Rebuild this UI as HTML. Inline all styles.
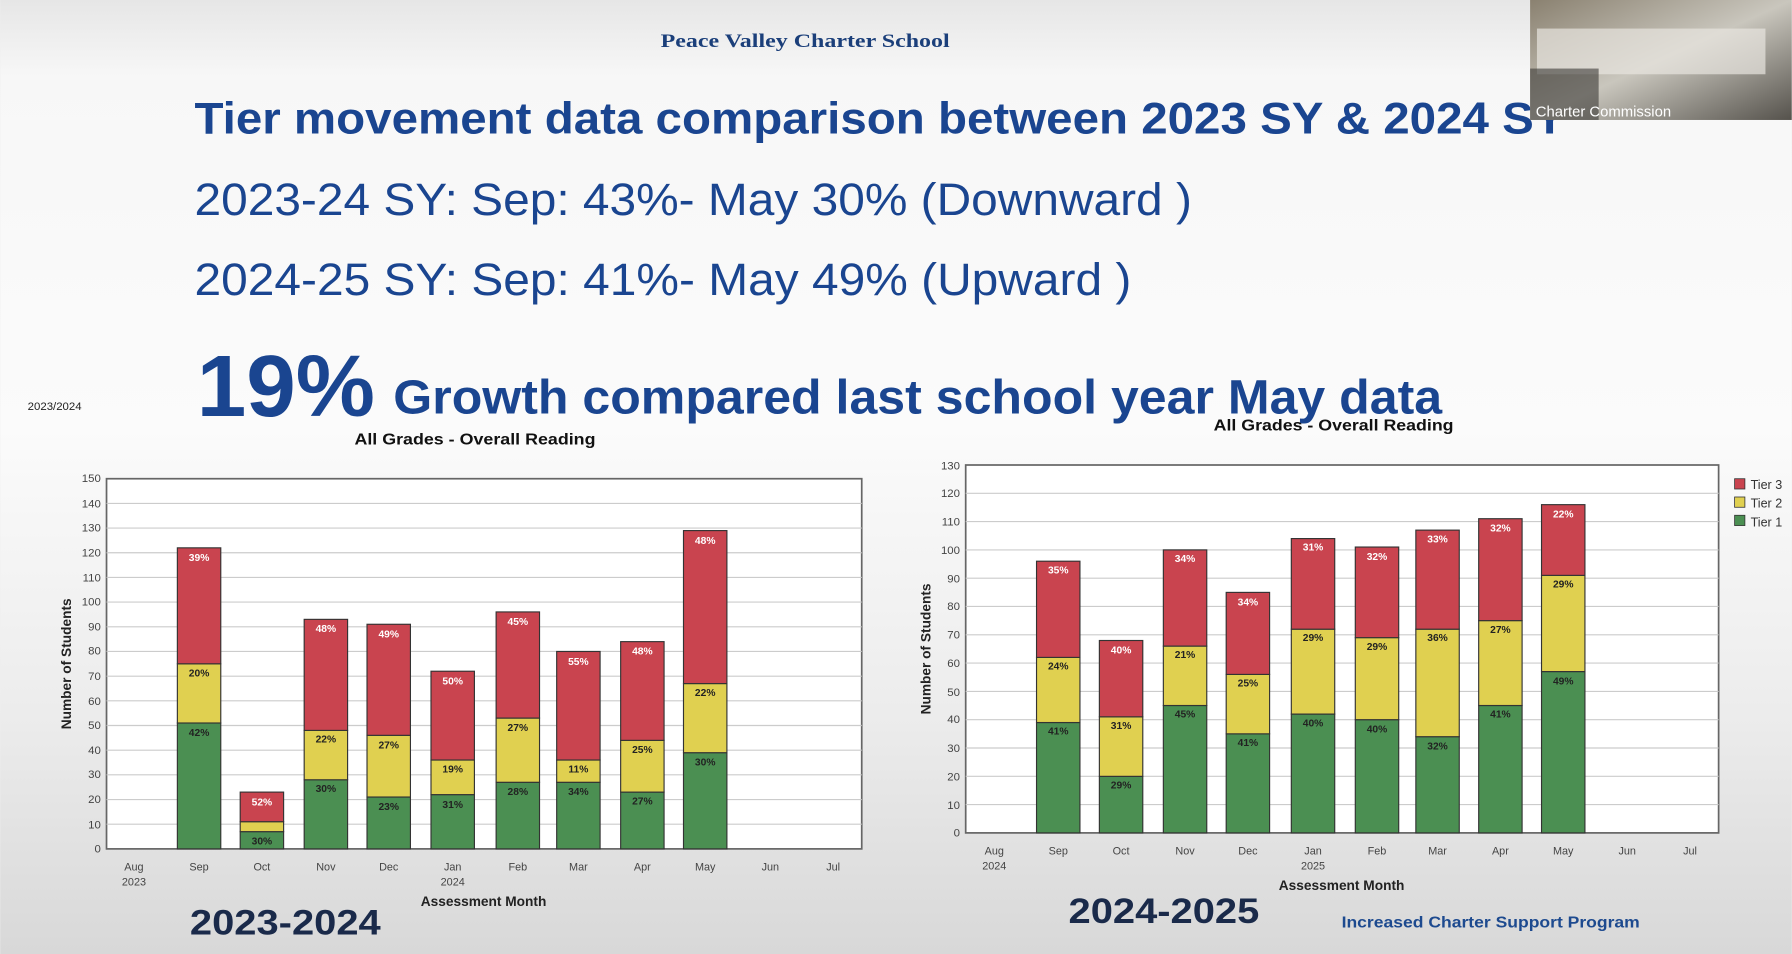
<!DOCTYPE html>
<html><head><meta charset="utf-8"><style>
html,body{margin:0;padding:0;width:1792px;height:954px;overflow:hidden;background:#eee}
svg{display:block}
</style></head><body>
<svg width="1792" height="954" viewBox="0 0 1568 835" xmlns="http://www.w3.org/2000/svg" font-family="Liberation Sans, Arial, sans-serif">
<defs>
<linearGradient id="bg" x1="0" y1="0" x2="0" y2="1">
<stop offset="0" stop-color="#e6e6e6"/><stop offset="0.08" stop-color="#f7f7f7"/><stop offset="0.45" stop-color="#fbfbfb"/><stop offset="0.75" stop-color="#ececec"/><stop offset="1" stop-color="#d8d8d8"/>
</linearGradient>
<linearGradient id="cam" x1="0" y1="0" x2="1" y2="1">
<stop offset="0" stop-color="#8a8170"/><stop offset="0.5" stop-color="#c9c6bd"/><stop offset="1" stop-color="#55524c"/>
</linearGradient>
</defs>
<rect width="1568" height="835" fill="url(#bg)"/>
<text x="578" y="41" textLength="253" lengthAdjust="spacingAndGlyphs" font-family="Liberation Serif, serif" font-weight="bold" font-size="17" fill="#1b3f7a">Peace Valley Charter School</text>
<g fill="#1a4590">
<text x="170" y="117" textLength="1200" lengthAdjust="spacingAndGlyphs" font-weight="bold" font-size="39">Tier movement data comparison between 2023 SY &amp; 2024 SY</text>
<text x="170" y="188" textLength="873" lengthAdjust="spacingAndGlyphs" font-size="40">2023-24 SY: Sep: 43%- May 30% (Downward )</text>
<text x="170" y="258" textLength="820" lengthAdjust="spacingAndGlyphs" font-size="40">2024-25 SY: Sep: 41%- May 49% (Upward )</text>
<text x="172" y="364" textLength="156" lengthAdjust="spacingAndGlyphs" font-weight="bold" font-size="76">19%</text>
<text x="344" y="362" textLength="918" lengthAdjust="spacingAndGlyphs" font-weight="bold" font-size="42">Growth compared last school year May data</text>
</g>
<rect x="1339" y="0" width="229" height="105" fill="url(#cam)"/>
<rect x="1345" y="25" width="200" height="40" fill="#e8e6e0" opacity="0.7"/>
<rect x="1339" y="60" width="60" height="45" fill="#3a3936" opacity="0.6"/>
<text x="1344" y="102" font-size="13" fill="#fff">Charter Commission</text>

<text x="24" y="359" font-size="10" fill="#222">2023/2024</text>
<text x="310" y="389" textLength="211" lengthAdjust="spacingAndGlyphs" font-weight="bold" font-size="14" fill="#111">All Grades - Overall Reading</text>
<text x="1062" y="377" textLength="210" lengthAdjust="spacingAndGlyphs" font-weight="bold" font-size="14" fill="#111">All Grades - Overall Reading</text>

<rect x="93" y="419" width="661" height="324" fill="#fff" stroke="#666" stroke-width="1.5"/>
<g stroke="#ccc" stroke-width="1">
<line x1="93" x2="754" y1="721.4" y2="721.4"/><line x1="93" x2="754" y1="699.8" y2="699.8"/><line x1="93" x2="754" y1="678.2" y2="678.2"/><line x1="93" x2="754" y1="656.6" y2="656.6"/><line x1="93" x2="754" y1="635" y2="635"/><line x1="93" x2="754" y1="613.4" y2="613.4"/><line x1="93" x2="754" y1="591.8" y2="591.8"/><line x1="93" x2="754" y1="570.2" y2="570.2"/><line x1="93" x2="754" y1="548.6" y2="548.6"/><line x1="93" x2="754" y1="527" y2="527"/><line x1="93" x2="754" y1="505.4" y2="505.4"/><line x1="93" x2="754" y1="483.8" y2="483.8"/><line x1="93" x2="754" y1="462.2" y2="462.2"/><line x1="93" x2="754" y1="440.6" y2="440.6"/>
</g>
<g font-size="10" fill="#444" text-anchor="end">
<text x="88" y="746">0</text><text x="88" y="725">10</text><text x="88" y="703">20</text><text x="88" y="681">30</text><text x="88" y="660">40</text><text x="88" y="638">50</text><text x="88" y="617">60</text><text x="88" y="595">70</text><text x="88" y="573">80</text><text x="88" y="552">90</text><text x="88" y="530">100</text><text x="88" y="509">110</text><text x="88" y="487">120</text><text x="88" y="465">130</text><text x="88" y="444">140</text><text x="88" y="422">150</text>
</g>
<text transform="translate(62,581) rotate(-90)" text-anchor="middle" font-weight="bold" font-size="12" fill="#222">Number of Students</text>
<g stroke="#333" stroke-width="1">
<rect x="155" y="632.8" width="38" height="110.2" fill="#4b8f52"/><rect x="155" y="581" width="38" height="51.8" fill="#e0d050"/><rect x="155" y="479.5" width="38" height="101.5" fill="#c9444f"/>
<rect x="210" y="727.9" width="38" height="15.1" fill="#4b8f52"/><rect x="210" y="719.2" width="38" height="8.7" fill="#e0d050"/><rect x="210" y="693.3" width="38" height="25.9" fill="#c9444f"/>
<rect x="266" y="682.5" width="38" height="60.5" fill="#4b8f52"/><rect x="266" y="639.3" width="38" height="43.2" fill="#e0d050"/><rect x="266" y="542.1" width="38" height="97.2" fill="#c9444f"/>
<rect x="321" y="697.6" width="38" height="45.4" fill="#4b8f52"/><rect x="321" y="643.6" width="38" height="54" fill="#e0d050"/><rect x="321" y="546.4" width="38" height="97.2" fill="#c9444f"/>
<rect x="377" y="695.5" width="38" height="47.5" fill="#4b8f52"/><rect x="377" y="665.2" width="38" height="30.3" fill="#e0d050"/><rect x="377" y="587.5" width="38" height="77.7" fill="#c9444f"/>
<rect x="434" y="684.7" width="38" height="58.3" fill="#4b8f52"/><rect x="434" y="628.5" width="38" height="56.2" fill="#e0d050"/><rect x="434" y="535.6" width="38" height="92.9" fill="#c9444f"/>
<rect x="487" y="684.7" width="38" height="58.3" fill="#4b8f52"/><rect x="487" y="665.2" width="38" height="19.5" fill="#e0d050"/><rect x="487" y="570.2" width="38" height="95" fill="#c9444f"/>
<rect x="543" y="693.3" width="38" height="49.7" fill="#4b8f52"/><rect x="543" y="648" width="38" height="45.3" fill="#e0d050"/><rect x="543" y="561.6" width="38" height="86.4" fill="#c9444f"/>
<rect x="598" y="658.8" width="38" height="84.2" fill="#4b8f52"/><rect x="598" y="598.3" width="38" height="60.5" fill="#e0d050"/><rect x="598" y="464.4" width="38" height="133.9" fill="#c9444f"/>
</g>
<g font-size="9" font-weight="bold" text-anchor="middle">
<g fill="#fff"><text x="174" y="491">39%</text><text x="229" y="705">52%</text><text x="285" y="553">48%</text><text x="340" y="558">49%</text><text x="396" y="599">50%</text><text x="453" y="547">45%</text><text x="506" y="582">55%</text><text x="562" y="573">48%</text><text x="617" y="476">48%</text></g>
<g fill="#222"><text x="174" y="592">20%</text><text x="285" y="650">22%</text><text x="340" y="655">27%</text><text x="396" y="676">19%</text><text x="453" y="640">27%</text><text x="506" y="676">11%</text><text x="562" y="659">25%</text><text x="617" y="609">22%</text>
<text x="174" y="644">42%</text><text x="229" y="739">30%</text><text x="285" y="693">30%</text><text x="340" y="709">23%</text><text x="396" y="707">31%</text><text x="453" y="696">28%</text><text x="506" y="696">34%</text><text x="562" y="704">27%</text><text x="617" y="670">30%</text></g>
</g>
<g font-size="9.5" fill="#444" text-anchor="middle">
<text x="117" y="762">Aug</text><text x="117" y="775">2023</text><text x="174" y="762">Sep</text><text x="229" y="762">Oct</text><text x="285" y="762">Nov</text><text x="340" y="762">Dec</text><text x="396" y="762">Jan</text><text x="396" y="775">2024</text><text x="453" y="762">Feb</text><text x="506" y="762">Mar</text><text x="562" y="762">Apr</text><text x="617" y="762">May</text><text x="674" y="762">Jun</text><text x="729" y="762">Jul</text>
</g>
<text x="423" y="793" text-anchor="middle" font-weight="bold" font-size="12" fill="#222">Assessment Month</text>
<text x="166" y="818" textLength="167" lengthAdjust="spacingAndGlyphs" font-weight="bold" font-size="31" fill="#1a2a4a">2023-2024</text>

<rect x="845" y="407" width="659" height="322" fill="#fff" stroke="#666" stroke-width="1.5"/>
<g stroke="#ccc" stroke-width="1">
<line x1="845" x2="1504" y1="704.2" y2="704.2"/><line x1="845" x2="1504" y1="679.5" y2="679.5"/><line x1="845" x2="1504" y1="654.7" y2="654.7"/><line x1="845" x2="1504" y1="629.9" y2="629.9"/><line x1="845" x2="1504" y1="605.2" y2="605.2"/><line x1="845" x2="1504" y1="580.4" y2="580.4"/><line x1="845" x2="1504" y1="555.6" y2="555.6"/><line x1="845" x2="1504" y1="530.8" y2="530.8"/><line x1="845" x2="1504" y1="506.1" y2="506.1"/><line x1="845" x2="1504" y1="481.3" y2="481.3"/><line x1="845" x2="1504" y1="456.5" y2="456.5"/><line x1="845" x2="1504" y1="431.8" y2="431.8"/>
</g>
<g font-size="10" fill="#444" text-anchor="end">
<text x="840" y="732">0</text><text x="840" y="708">10</text><text x="840" y="683">20</text><text x="840" y="658">30</text><text x="840" y="633">40</text><text x="840" y="609">50</text><text x="840" y="584">60</text><text x="840" y="559">70</text><text x="840" y="534">80</text><text x="840" y="510">90</text><text x="840" y="485">100</text><text x="840" y="460">110</text><text x="840" y="435">120</text><text x="840" y="411">130</text>
</g>
<text transform="translate(814,568) rotate(-90)" text-anchor="middle" font-weight="bold" font-size="12" fill="#222">Number of Students</text>
<g stroke="#333" stroke-width="1">
<rect x="907" y="632.4" width="38" height="96.6" fill="#4b8f52"/><rect x="907" y="575.4" width="38" height="57" fill="#e0d050"/><rect x="907" y="491.2" width="38" height="84.2" fill="#c9444f"/>
<rect x="962" y="679.5" width="38" height="49.5" fill="#4b8f52"/><rect x="962" y="627.4" width="38" height="52.1" fill="#e0d050"/><rect x="962" y="560.6" width="38" height="66.8" fill="#c9444f"/>
<rect x="1018" y="617.5" width="38" height="111.5" fill="#4b8f52"/><rect x="1018" y="565.5" width="38" height="52" fill="#e0d050"/><rect x="1018" y="481.3" width="38" height="84.2" fill="#c9444f"/>
<rect x="1073" y="642.3" width="38" height="86.7" fill="#4b8f52"/><rect x="1073" y="590.3" width="38" height="52" fill="#e0d050"/><rect x="1073" y="518.5" width="38" height="71.8" fill="#c9444f"/>
<rect x="1130" y="625" width="38" height="104" fill="#4b8f52"/><rect x="1130" y="550.7" width="38" height="74.3" fill="#e0d050"/><rect x="1130" y="471.4" width="38" height="79.3" fill="#c9444f"/>
<rect x="1186" y="629.9" width="38" height="99.1" fill="#4b8f52"/><rect x="1186" y="558.1" width="38" height="71.8" fill="#e0d050"/><rect x="1186" y="478.8" width="38" height="79.3" fill="#c9444f"/>
<rect x="1239" y="644.8" width="38" height="84.2" fill="#4b8f52"/><rect x="1239" y="550.7" width="38" height="94.1" fill="#e0d050"/><rect x="1239" y="464" width="38" height="86.7" fill="#c9444f"/>
<rect x="1294" y="617.5" width="38" height="111.5" fill="#4b8f52"/><rect x="1294" y="543.2" width="38" height="74.3" fill="#e0d050"/><rect x="1294" y="454" width="38" height="89.2" fill="#c9444f"/>
<rect x="1349" y="587.8" width="38" height="141.2" fill="#4b8f52"/><rect x="1349" y="503.6" width="38" height="84.2" fill="#e0d050"/><rect x="1349" y="441.7" width="38" height="61.9" fill="#c9444f"/>
</g>
<g font-size="9" font-weight="bold" text-anchor="middle">
<g fill="#fff"><text x="926" y="502">35%</text><text x="981" y="572">40%</text><text x="1037" y="492">34%</text><text x="1092" y="530">34%</text><text x="1149" y="482">31%</text><text x="1205" y="490">32%</text><text x="1258" y="475">33%</text><text x="1313" y="465">32%</text><text x="1368" y="453">22%</text></g>
<g fill="#222"><text x="926" y="586">24%</text><text x="981" y="638">31%</text><text x="1037" y="576">21%</text><text x="1092" y="601">25%</text><text x="1149" y="561">29%</text><text x="1205" y="569">29%</text><text x="1258" y="561">36%</text><text x="1313" y="554">27%</text><text x="1368" y="514">29%</text>
<text x="926" y="643">41%</text><text x="981" y="690">29%</text><text x="1037" y="628">45%</text><text x="1092" y="653">41%</text><text x="1149" y="636">40%</text><text x="1205" y="641">40%</text><text x="1258" y="656">32%</text><text x="1313" y="628">41%</text><text x="1368" y="599">49%</text></g>
</g>
<g font-size="9.5" fill="#444" text-anchor="middle">
<text x="870" y="748">Aug</text><text x="870" y="761">2024</text><text x="926" y="748">Sep</text><text x="981" y="748">Oct</text><text x="1037" y="748">Nov</text><text x="1092" y="748">Dec</text><text x="1149" y="748">Jan</text><text x="1149" y="761">2025</text><text x="1205" y="748">Feb</text><text x="1258" y="748">Mar</text><text x="1313" y="748">Apr</text><text x="1368" y="748">May</text><text x="1424" y="748">Jun</text><text x="1479" y="748">Jul</text>
</g>
<text x="1174" y="779" text-anchor="middle" font-weight="bold" font-size="12" fill="#222">Assessment Month</text>
<g font-size="11" fill="#333">
<rect x="1518" y="419" width="9" height="9" fill="#c9444f" stroke="#333" stroke-width="0.7"/><text x="1532" y="428">Tier 3</text>
<rect x="1518" y="435" width="9" height="9" fill="#e0d050" stroke="#333" stroke-width="0.7"/><text x="1532" y="444">Tier 2</text>
<rect x="1518" y="451" width="9" height="9" fill="#4b8f52" stroke="#333" stroke-width="0.7"/><text x="1532" y="461">Tier 1</text>
</g>
<text x="935" y="808" textLength="167" lengthAdjust="spacingAndGlyphs" font-weight="bold" font-size="31" fill="#1a2a4a">2024-2025</text>
<text x="1174" y="812" textLength="261" lengthAdjust="spacingAndGlyphs" font-weight="bold" font-size="14" fill="#1d4a8f">Increased Charter Support Program</text>
</svg>
</body></html>
